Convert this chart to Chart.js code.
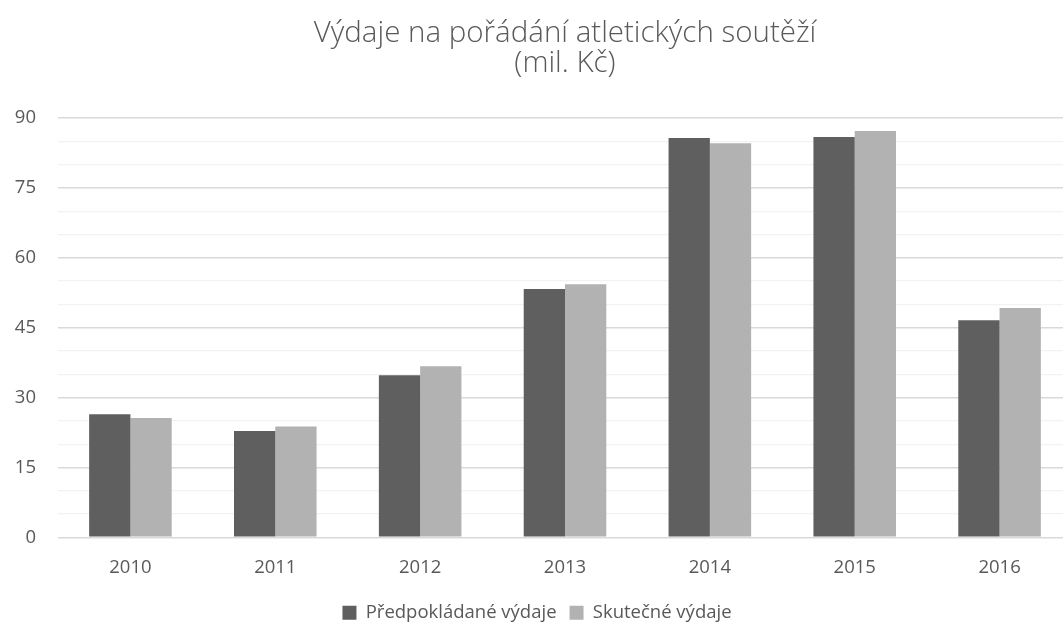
<!DOCTYPE html>
<html>
<head>
<meta charset="utf-8">
<script src="https://cdn.jsdelivr.net/npm/chart.js@4/dist/chart.umd.min.js"></script>
<style>
  html, body { margin: 0; padding: 0; background: #fff; overflow: hidden; }
  #wrap { width: 1075px; height: 632px; }
</style>
</head>
<body>
<div id="wrap"><canvas id="graf"></canvas></div>
<script>
// Výdaje na pořádání atletických soutěží
const roky = ['2010', '2011', '2012', '2013', '2014', '2015', '2016'];
const predpokladane = [26.4, 22.8, 34.8, 53.3, 85.7, 85.9, 46.6];
const skutecne = [25.6, 23.8, 36.7, 54.3, 84.6, 87.2, 49.2];
const hlavniZnacky = [0, 15, 30, 45, 60, 75, 90];

const sedaText = '#595959';

const ctx = document.getElementById('graf');
new Chart(ctx, {
    type: 'bar',
    data: {
        labels: roky,
        datasets: [{
            label: 'Předpokládané výdaje',
            data: predpokladane,
            backgroundColor: '#5f5f5f'
        }, {
            label: 'Skutečné výdaje',
            data: skutecne,
            backgroundColor: '#b2b2b2'
        }]
    },
    options: {
        responsive: true,
        maintainAspectRatio: false,
        animation: false,
        layout: { padding: { left: 2, right: 3, top: 15, bottom: 0 } },
        datasets: {
            bar: { categoryPercentage: 0.57, barPercentage: 1 }
        },
        scales: {
            y: {
                min: 0,
                max: 90,
                afterFit: scale => { scale.width = 56; },
                border: { display: false },
                grid: {
                    drawTicks: false,
                    color: c => hlavniZnacky.includes(c.tick.value) ? '#d9d9d9' : '#f2f2f2',
                    lineWidth: c => hlavniZnacky.includes(c.tick.value) ? 1.5 : 1.2
                },
                ticks: {
                    stepSize: 5,
                    autoSkip: false,
                    padding: 22,
                    color: sedaText,
                    font: { family: 'Open Sans', size: 18.5 },
                    callback: v => hlavniZnacky.includes(v) ? v : ''
                }
            },
            x: {
                border: { display: false },
                grid: { display: false },
                ticks: {
                    padding: 11.5,
                    color: sedaText,
                    font: { family: 'Open Sans', size: 18.5 }
                }
            }
        },
        plugins: {
            title: {
                display: true,
                fullSize: false,
                text: ['Výdaje na pořádání atletických soutěží', '(mil. Kč)'],
                color: sedaText,
                font: { family: 'Open Sans', size: 29.5, weight: 300, lineHeight: 1.0 },
                padding: { top: 4, bottom: 40 }
            },
            legend: {
                position: 'bottom',
                labels: {
                    boxWidth: 14,
                    boxHeight: 14,
                    padding: 13,
                    color: sedaText,
                    font: { family: 'Open Sans', size: 18.5 }
                }
            },
            tooltip: { enabled: false }
        }
    }
});
</script>
</body>
</html>
